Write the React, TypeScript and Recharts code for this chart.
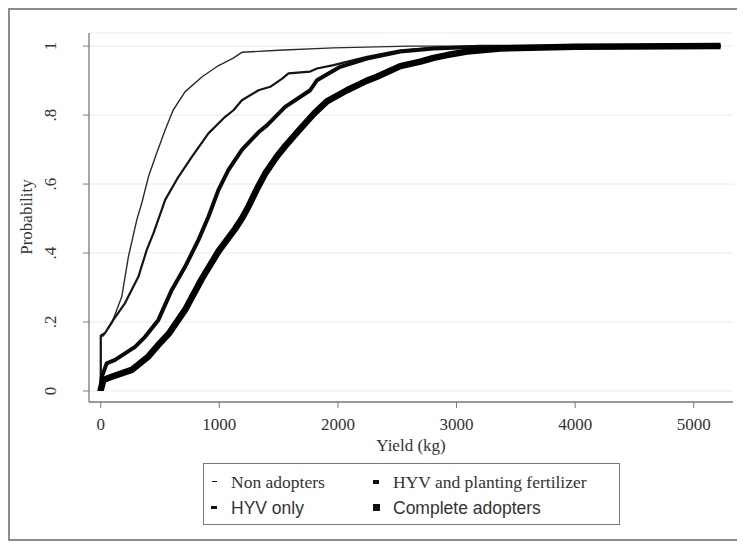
import React from "react";
import { LineChart, Line, XAxis, YAxis, CartesianGrid } from "recharts";

// ---- Data ----
const nonAdoptersYield = [0, 0, 22, 93, 177, 233, 304, 346, 402, 472, 543, 610, 712, 855, 990, 1117, 1190, 1500, 1960, 2600, 5226];
const nonAdoptersProb = [0, 0.157, 0.16, 0.197, 0.273, 0.389, 0.496, 0.545, 0.621, 0.69, 0.757, 0.814, 0.868, 0.911, 0.943, 0.965, 0.982, 0.988, 0.995, 1.0, 1.0];

const hyvOnlyYield = [0, 0, 36, 106, 205, 317, 388, 444, 514, 543, 655, 768, 908, 1049, 1119, 1190, 1330, 1429, 1527, 1583, 1766, 1823, 1963, 2245, 2526, 2807, 3200, 5226];
const hyvOnlyProb = [0, 0.16, 0.168, 0.206, 0.255, 0.331, 0.409, 0.457, 0.525, 0.554, 0.621, 0.679, 0.747, 0.795, 0.814, 0.843, 0.872, 0.882, 0.905, 0.921, 0.926, 0.935, 0.945, 0.969, 0.988, 0.995, 0.999, 1.0];

const hyvFertYield = [0, 0, 8, 50, 121, 289, 374, 486, 599, 711, 824, 908, 993, 1077, 1190, 1330, 1401, 1555, 1766, 1823, 2019, 2245, 2526, 2807, 3200, 5226];
const hyvFertProb = [0, 0.003, 0.04, 0.08, 0.09, 0.128, 0.157, 0.206, 0.293, 0.36, 0.438, 0.505, 0.583, 0.641, 0.699, 0.75, 0.77, 0.824, 0.872, 0.901, 0.94, 0.964, 0.984, 0.993, 0.998, 1.0];

const completeYield = [0, 0, 22, 93, 261, 402, 502, 571, 711, 852, 993, 1133, 1190, 1246, 1316, 1386, 1485, 1555, 1682, 1800, 1907, 2076, 2245, 2329, 2526, 2695, 2807, 2920, 3089, 3370, 4000, 5226];
const completeProb = [0, 0.003, 0.032, 0.041, 0.061, 0.1, 0.14, 0.165, 0.235, 0.325, 0.405, 0.47, 0.5, 0.535, 0.585, 0.63, 0.68, 0.71, 0.76, 0.805, 0.84, 0.872, 0.9, 0.911, 0.942, 0.955, 0.966, 0.974, 0.984, 0.993, 0.998, 1.0];

const xTicks = [0, 1000, 2000, 3000, 4000, 5000];
const xTickLabels = ["0", "1000", "2000", "3000", "4000", "5000"];
const yTicks = [0, 0.2, 0.4, 0.6, 0.8, 1];
const yTickLabels = ["0", ".2", ".4", ".6", ".8", "1"];

const seriesNames = ["Non adopters", "HYV only", "HYV and planting fertilizer", "Complete adopters"];

const build = (xs: number[], ys: number[]) => xs.map((x, i) => ({ x, y: ys[i] }));
const series = [
  { name: seriesNames[0], data: build(nonAdoptersYield, nonAdoptersProb), width: 1.4, color: "#2a2a2a" },
  { name: seriesNames[1], data: build(hyvOnlyYield, hyvOnlyProb), width: 2.2, color: "#151515" },
  { name: seriesNames[2], data: build(hyvFertYield, hyvFertProb), width: 4, color: "#0a0a0a" },
  { name: seriesNames[3], data: build(completeYield, completeProb), width: 6.5, color: "#000" },
];

const SERIF = "'Liberation Serif', 'Times New Roman', serif";
const SANS = "'Liberation Sans', Arial, sans-serif";
const AXIS = "#7a7a7a";

const YTick = (props: any) => {
  const { y, payload } = props;
  const idx = yTicks.indexOf(payload.value);
  const label = idx >= 0 ? yTickLabels[idx] : String(payload.value);
  const bx = 48;
  return (
    <text x={bx} y={y} transform={`rotate(-90, ${bx}, ${y})`} textAnchor="middle" fontFamily={SERIF} fontSize={17} fill="#333">
      {label}
    </text>
  );
};

const XTick = (props: any) => {
  const { x, payload } = props;
  const idx = xTicks.indexOf(payload.value);
  const label = idx >= 0 ? xTickLabels[idx] : String(payload.value);
  return (
    <text x={x} y={422} textAnchor="middle" fontFamily={SERIF} fontSize={17} fill="#333">
      {label}
    </text>
  );
};

const markerSizes = [
  { w: 5, h: 1.5 },
  { w: 6, h: 2.7 },
  { w: 6, h: 4 },
  { w: 7, h: 7 },
];
const legendFonts = [SERIF, SANS, SERIF, SANS];
const legendPos = [
  { mx: 10, tx: 27, cy: 19 },
  { mx: 10, tx: 27, cy: 45 },
  { mx: 172, tx: 189, cy: 19 },
  { mx: 172, tx: 189, cy: 45 },
];

export default function App() {
  return (
    <div style={{ position: "relative", width: 737, height: 533 }}>
      <LineChart width={737} height={533} margin={{ top: 25, right: 12, bottom: 99, left: 21 }}>
        <CartesianGrid horizontal={true} vertical={false} stroke="#e3eded" strokeWidth={1} />
        <XAxis
          dataKey="x"
          type="number"
          domain={[-99, 5331]}
          allowDataOverflow
          ticks={xTicks}
          tick={<XTick />}
          tickSize={6}
          height={40}
          axisLine={{ stroke: AXIS, strokeWidth: 1.3 }}
          tickLine={{ stroke: AXIS, strokeWidth: 1 }}
          interval={0}
        />
        <YAxis
          type="number"
          domain={[-0.032, 1.038]}
          allowDataOverflow
          ticks={yTicks}
          tick={<YTick />}
          tickSize={6}
          width={60}
          axisLine={{ stroke: AXIS, strokeWidth: 1.3 }}
          tickLine={{ stroke: AXIS, strokeWidth: 1 }}
          interval={0}
        />
        {series.map((s) => (
          <Line
            key={s.name}
            data={s.data}
            dataKey="y"
            name={s.name}
            type="linear"
            stroke={s.color}
            strokeWidth={s.width}
            strokeLinejoin="round"
            dot={false}
            activeDot={false}
            isAnimationActive={false}
          />
        ))}
        <text x={403} y={443} textAnchor="middle" fontFamily={SERIF} fontSize={17} fill="#333">
          Yield (kg)
        </text>
        <text x={24} y={209} transform="rotate(-90, 24, 209)" textAnchor="middle" fontFamily={SERIF} fontSize={17} fill="#333">
          Probability
        </text>
      </LineChart>
      <div
        style={{
          position: "absolute",
          left: 195,
          top: 455,
          width: 417,
          height: 62,
          border: "1.5px solid #777",
          boxSizing: "border-box",
        }}
      >
        {seriesNames.map((n, i) => (
          <React.Fragment key={n}>
            <div
              style={{
                position: "absolute",
                left: legendPos[i].mx - markerSizes[i].w / 2,
                top: legendPos[i].cy - markerSizes[i].h / 2 - 1.5,
                width: markerSizes[i].w,
                height: markerSizes[i].h,
                background: "#111",
              }}
            />
            <div
              style={{
                position: "absolute",
                left: legendPos[i].tx,
                top: legendPos[i].cy - 12,
                height: 22,
                lineHeight: "22px",
                fontFamily: legendFonts[i],
                fontSize: legendFonts[i] === SANS ? 17.5 : 17.5,
                color: "#333",
                whiteSpace: "nowrap",
              }}
            >
              {n}
            </div>
          </React.Fragment>
        ))}
      </div>
      <div
        style={{
          position: "absolute",
          left: 0,
          top: 0,
          width: 737,
          height: 533,
          border: "2px solid #8c8c8c",
          boxSizing: "border-box",
          pointerEvents: "none",
        }}
      />
    </div>
  );
}
